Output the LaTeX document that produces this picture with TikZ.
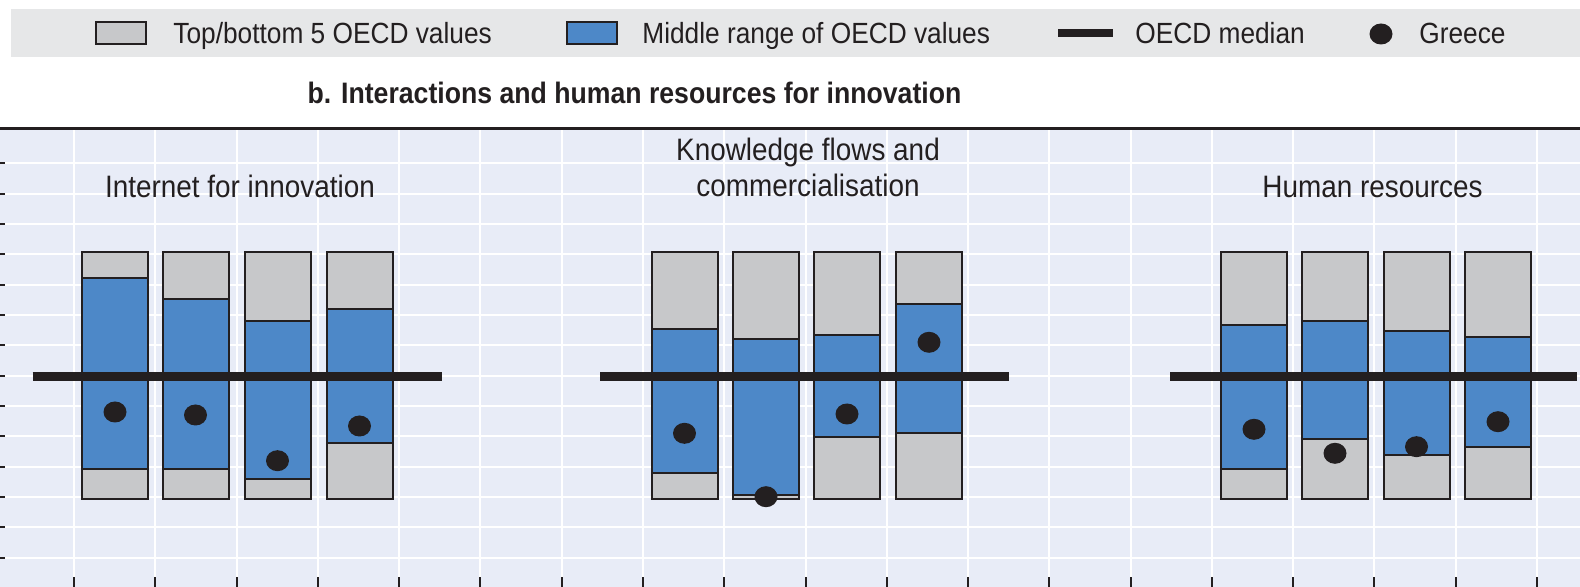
\documentclass[tikz,border=0pt]{standalone}
\usepackage{fontspec}
\setmainfont[FakeStretch=0.9]{Liberation Sans}
\usetikzlibrary{calc, shapes, positioning}
\definecolor{plotbg}{HTML}{E8ECF7}
\definecolor{legbg}{HTML}{E6E7E8}
\definecolor{topgray}{HTML}{C7C8CA}
\definecolor{midblue}{HTML}{4D88C8}
\definecolor{inkdark}{HTML}{231F20}

\begin{document}
\begin{tikzpicture}[x=0.5pt, y=-0.5pt,
    part/.style={draw=inkdark, line width=1pt},
    greece/.style={fill=inkdark, ellipse, minimum width=11.5pt, minimum height=10.5pt, inner sep=0pt},
    median/.style={draw=inkdark, line width=4.5pt},
    keybox/.style={part, minimum width=25pt, minimum height=11pt, inner sep=0pt},
    lab/.style={text=inkdark, font=\fontsize{14.6}{17}\selectfont, anchor=base west, inner sep=0pt},
    group/.style={text=inkdark, font=\fontsize{15.5}{18}\selectfont, align=center, anchor=base, inner sep=0pt}]
  \useasboundingbox (0,0) rectangle (1580,587);
  % legend band and plot area
  \fill[legbg] (11,9.3) rectangle (1580,56.7);
  \fill[plotbg] (0,130) rectangle (1580,587);
  \foreach \k in {0,...,13}{
    \draw[white, line width=1pt] (0,{163.3+30.33*\k}) -- (1580,{163.3+30.33*\k});
    \draw[inkdark, line width=1pt] (0,{163.3+30.33*\k}) -- (5,{163.3+30.33*\k});
  };
  \foreach \k in {0,...,18}{
    \draw[white, line width=1pt] ({74+81.28*\k},130) -- ({74+81.28*\k},578);
    \draw[inkdark, line width=1pt] ({74+81.28*\k},577) -- ({74+81.28*\k},587);
  };
  \draw[inkdark, line width=1.75pt] (0,128.3) -- (1580,128.3);

  % legend
  \node[keybox, fill=topgray] (keygray) at (121,33) {};
  \node[lab] (labgray) at (173,43.5) {Top/bottom 5 OECD values};
  \node[keybox, fill=midblue] (keyblue) at (591.5,33) {};
  \node[lab] (labblue) at (642,43.5) {Middle range of OECD values};
  \node[fill=inkdark, minimum width=27.5pt, minimum height=4pt, inner sep=0pt] (keymed) at (1085.5,33) {};
  \node[lab] (labmed) at (1135,43.5) {OECD median};
  \node[greece] (keydot) at (1381,34) {};
  \node[lab] (labdot) at (1419,43.5) {Greece};

  \node[text=inkdark, font=\bfseries\fontsize{14.8}{17}\selectfont, anchor=base, inner sep=0pt] (title) at (634.5,103.5)
    {b. Interactions and human resources for innovation};

  % group titles
  \node[group] (internet) at (240,197.3) {Internet for innovation};
  \node[group] (knowledge) at (808,196.7) {Knowledge flows and\\commercialisation};
  \node[group] (human) at (1372.5,197.3) {Human resources};

  % bars: centre / top of middle range / bottom of middle range
  \foreach \cx/\bt/\bb [count=\i] in {115/278.3/469, 195.5/298.7/469, 277.5/321/479, 359.5/309/443.3,
      684.5/329/473.3, 766/339/495, 847/335/437.3, 929/304.3/433.3,
      1254/325/469, 1335/321/439.3, 1416.5/331/455, 1498/336.7/447.3}{
    \filldraw[part, fill=topgray] ({\cx-33},252.3) rectangle ({\cx+33},499.3);
    \filldraw[part, fill=midblue] ({\cx-33},\bt) rectangle ({\cx+33},\bb);
  };
  \draw[median] (32.7,376.7) -- (442,376.7);
  \draw[median] (600,376.7) -- (1009.3,376.7);
  \draw[median] (1170,376.7) -- (1576.7,376.7);
  \foreach \cx/\gy [count=\i] in {115/412, 195.5/415, 277.5/460.7, 359.5/426,
      684.5/433.3, 766/496.7, 847/414, 929/342.3,
      1254/429.3, 1335/453.3, 1416.5/446.7, 1498/421.7}{
    \node[greece] (dot\i) at (\cx,\gy) {};
  };
\end{tikzpicture}
\end{document}
